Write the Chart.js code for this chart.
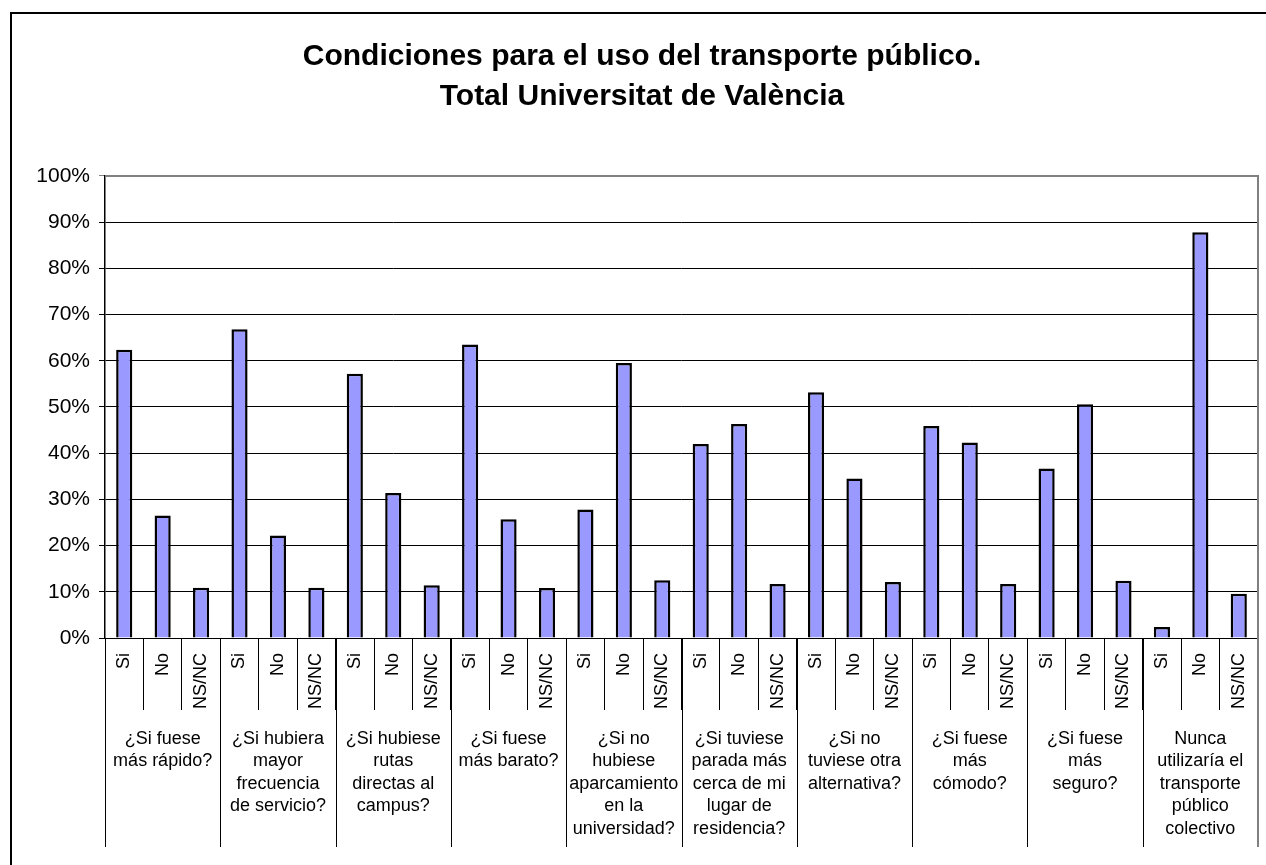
<!DOCTYPE html>
<html>
<head>
<meta charset="utf-8">
<script src="https://cdn.jsdelivr.net/npm/chart.js@4/dist/chart.umd.min.js"></script>
<style>
  html, body { margin: 0; padding: 0; background: #fff; overflow: hidden; }
  #wrap { position: relative; width: 1266px; height: 865px; }
</style>
</head>
<body>
<div id="wrap"><canvas id="chart"></canvas></div>
<script>
var titleLines = ['Condiciones para el uso del transporte público.', 'Total Universitat de València'];
var answers = ['Si', 'No', 'NS/NC'];
var questions = [
  ['¿Si fuese', 'más rápido?'],
  ['¿Si hubiera', 'mayor', 'frecuencia', 'de servicio?'],
  ['¿Si hubiese', 'rutas', 'directas al', 'campus?'],
  ['¿Si fuese', 'más barato?'],
  ['¿Si no', 'hubiese', 'aparcamiento', 'en la', 'universidad?'],
  ['¿Si tuviese', 'parada más', 'cerca de mi', 'lugar de', 'residencia?'],
  ['¿Si no', 'tuviese otra', 'alternativa?'],
  ['¿Si fuese', 'más', 'cómodo?'],
  ['¿Si fuese', 'más', 'seguro?'],
  ['Nunca', 'utilizaría el', 'transporte', 'público', 'colectivo']
];
var siValues   = [62.4, 66.8, 57.2, 63.5, 27.8, 42.0, 53.2, 45.9, 36.7, 2.4];
var noValues   = [26.5, 22.2, 31.4, 25.7, 59.5, 46.3, 34.5, 42.3, 50.6, 87.8];
var nsncValues = [10.9, 10.9, 11.4, 10.8, 12.5, 11.7, 12.1, 11.7, 12.4, 9.6];
var yTicks = [0, 10, 20, 30, 40, 50, 60, 70, 80, 90, 100];

var FONT = "'Liberation Sans', Arial, sans-serif";

// one bar per answer, three per question
var labels = [];
var values = [];
for (var i = 0; i < questions.length; i++) {
  labels.push(answers[0], answers[1], answers[2]);
  values.push(siValues[i], noValues[i], nsncValues[i]);
}

// group labels, long separators, plot border and outer frame
var groupPlugin = {
  id: 'groups',
  afterDraw: function(chart) {
    var ctx = chart.ctx;
    var x = chart.scales.x;
    var area = chart.chartArea;
    var half = (x.getPixelForValue(1) - x.getPixelForValue(0)) / 2;
    ctx.save();
    // long separators between questions
    ctx.strokeStyle = '#000';
    ctx.lineWidth = 1;
    for (var g = 0; g < questions.length; g++) {
      var left = Math.round(x.getPixelForValue(g * 3) - half) + 0.5;
      ctx.beginPath();
      ctx.moveTo(left, area.bottom);
      ctx.lineTo(left, 847);
      ctx.stroke();
    }
    // question texts
    ctx.fillStyle = '#000';
    ctx.font = '18px ' + FONT;
    ctx.textAlign = 'center';
    ctx.textBaseline = 'middle';
    for (var g = 0; g < questions.length; g++) {
      var cx = x.getPixelForValue(g * 3 + 1);
      for (var l = 0; l < questions[g].length; l++) {
        ctx.fillText(questions[g][l], cx, 739 + l * 22.5);
      }
    }
    // plot border top / right (gray)
    ctx.strokeStyle = '#808080';
    ctx.lineWidth = 2;
    ctx.beginPath();
    ctx.moveTo(area.left, area.top);
    ctx.lineTo(area.right, area.top);
    ctx.lineTo(area.right, 847);
    ctx.stroke();
    // outer chart frame (only top and left are in view)
    ctx.strokeStyle = '#000';
    ctx.lineWidth = 2;
    ctx.beginPath();
    ctx.moveTo(11, 870);
    ctx.lineTo(11, 13);
    ctx.lineTo(1270, 13);
    ctx.stroke();
    ctx.restore();
  }
};

new Chart(document.getElementById('chart'), {
  type: 'bar',
  data: {
    labels: labels,
    datasets: [{
      data: values,
      backgroundColor: '#9999FF',
      borderColor: '#000',
      borderWidth: 2.5,
      barPercentage: 0.42,
      categoryPercentage: 1
    }]
  },
  options: {
    responsive: true,
    maintainAspectRatio: false,
    animation: false,
    layout: { padding: { left: 26, right: 8, top: 0, bottom: 0 } },
    plugins: {
      legend: { display: false },
      tooltip: { enabled: false },
      title: {
        display: true,
        text: titleLines,
        color: '#000',
        font: { family: FONT, size: 30, weight: 'bold', lineHeight: 1.333 },
        padding: { top: 37, bottom: 59 }
      }
    },
    scales: {
      x: {
        afterFit: function(s) { s.height = 227; },
        border: { display: true, color: '#000', width: 1 },
        grid: { offset: true, drawOnChartArea: false, drawTicks: true, tickLength: 72, color: '#000' },
        ticks: {
          autoSkip: false, minRotation: 90, maxRotation: 90, padding: -57,
          color: '#000', font: { family: FONT, size: 18 }
        }
      },
      y: {
        min: 0,
        max: 100,
        afterFit: function(s) { s.width = 79; },
        afterBuildTicks: function(s) { s.ticks = yTicks.map(function(v) { return { value: v }; }); },
        border: { display: true, color: '#000', width: 1.5 },
        grid: {
          color: function(c) { return c.tick && c.tick.value === 100 ? '#808080' : '#000'; },
          tickLength: 6
        },
        ticks: {
          padding: 9,
          color: '#000',
          font: { family: FONT, size: 21 },
          callback: function(v) { return v + '%'; }
        }
      }
    }
  },
  plugins: [groupPlugin]
});
</script>
</body>
</html>
